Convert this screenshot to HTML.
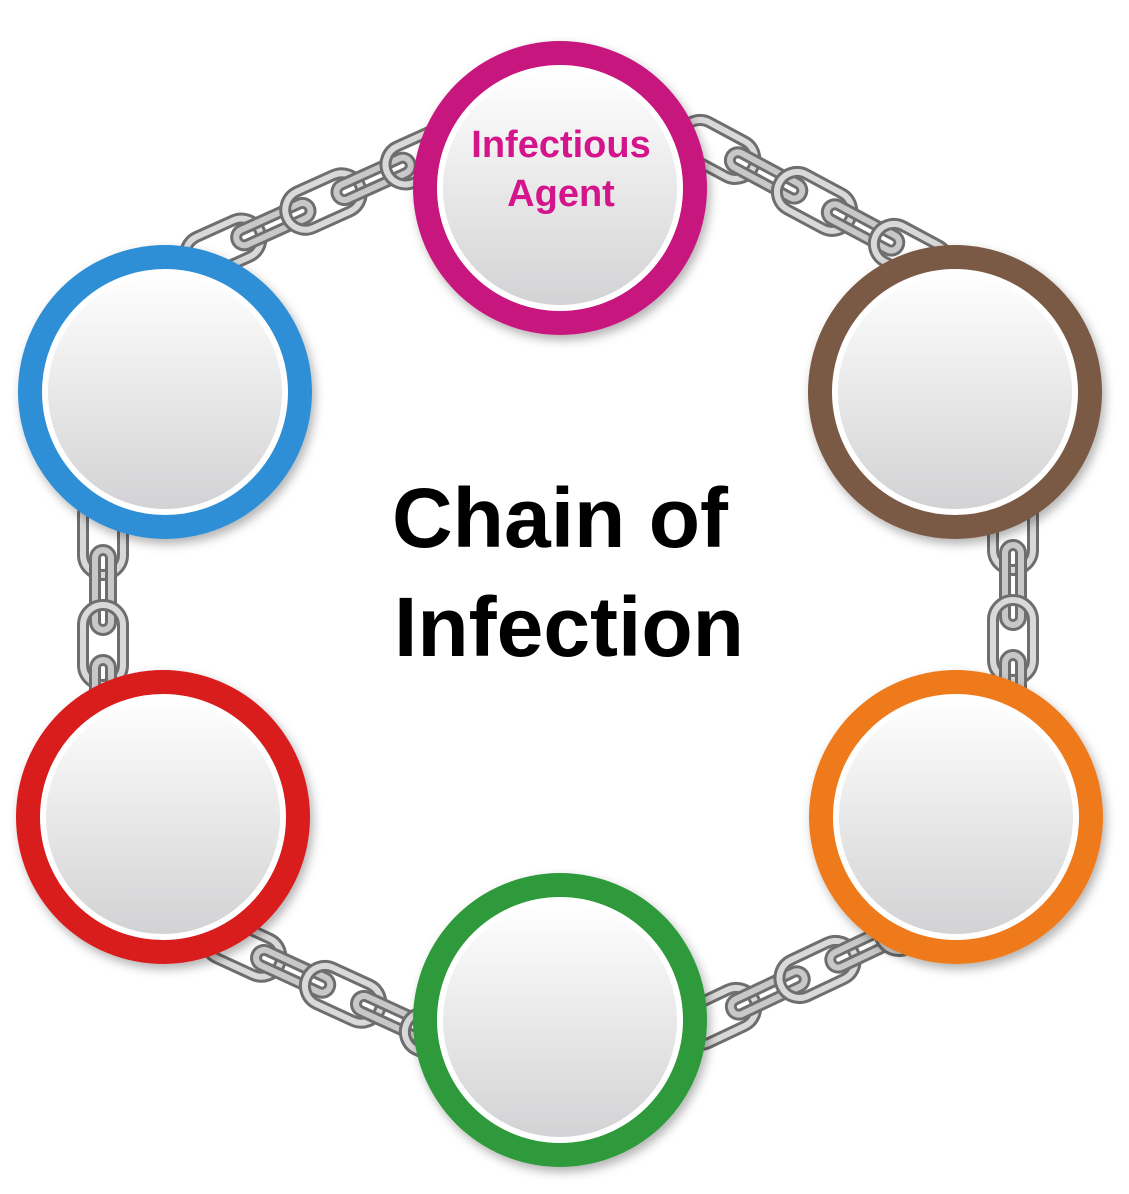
<!DOCTYPE html>
<html><head><meta charset="utf-8"><style>
html,body{margin:0;padding:0;background:#fff;}
svg{display:block;}
</style></head><body>
<svg width="1129" height="1194" viewBox="0 0 1129 1194" xmlns="http://www.w3.org/2000/svg">
<defs>
<linearGradient id="inner" x1="0" y1="0" x2="0" y2="1">
<stop offset="0" stop-color="#ffffff"/><stop offset="1" stop-color="#d2d2d4"/>
</linearGradient>
<g id="chain">
<rect x="-20" y="-20" width="80" height="40" rx="20" fill="none" stroke="#6e6e6e" stroke-width="12"/>
<rect x="-20" y="-20" width="80" height="40" rx="20" fill="none" stroke="#d9d9d9" stroke-width="6"/>
<rect x="35" y="-8" width="80" height="16" rx="8" fill="none" stroke="#6e6e6e" stroke-width="12"/>
<rect x="35" y="-8" width="80" height="16" rx="8" fill="none" stroke="#c8c8c8" stroke-width="6"/>
<rect x="90" y="-20" width="80" height="40" rx="20" fill="none" stroke="#6e6e6e" stroke-width="12"/>
<rect x="90" y="-20" width="80" height="40" rx="20" fill="none" stroke="#d9d9d9" stroke-width="6"/>
<rect x="145" y="-8" width="80" height="16" rx="8" fill="none" stroke="#6e6e6e" stroke-width="12"/>
<rect x="145" y="-8" width="80" height="16" rx="8" fill="none" stroke="#c8c8c8" stroke-width="6"/>
<rect x="200" y="-20" width="80" height="40" rx="20" fill="none" stroke="#6e6e6e" stroke-width="12"/>
<rect x="200" y="-20" width="80" height="40" rx="20" fill="none" stroke="#d9d9d9" stroke-width="6"/>
</g>
<filter id="sh" x="-20%" y="-20%" width="140%" height="140%"><feDropShadow dx="3" dy="5" stdDeviation="5" flood-opacity="0.3"/></filter>
</defs>

<use href="#chain" transform="translate(205,255) rotate(-24.3)"/>
<use href="#chain" transform="translate(700,140) rotate(28.2)"/>
<use href="#chain" transform="translate(103,515) rotate(90)"/>
<use href="#chain" transform="translate(1013,510) rotate(90)"/>
<use href="#chain" transform="translate(225,940) rotate(24.7)"/>
<use href="#chain" transform="translate(700,1025) rotate(-25.3)"/>

<g filter="url(#sh)">
<circle cx="560" cy="188" r="147" fill="#c8177f"/>
<circle cx="165" cy="392" r="147" fill="#2f8fd6"/>
<circle cx="955" cy="392" r="147" fill="#7a5a45"/>
<circle cx="163" cy="817" r="147" fill="#d91c1f"/>
<circle cx="956" cy="817" r="147" fill="#ee7a1c"/>
<circle cx="560" cy="1020" r="147" fill="#2f9a3a"/>
</g>
<g fill="url(#inner)" stroke="#ffffff" stroke-width="6">
<circle cx="560" cy="188" r="120"/>
<circle cx="165" cy="392" r="120"/>
<circle cx="955" cy="392" r="120"/>
<circle cx="163" cy="817" r="120"/>
<circle cx="956" cy="817" r="120"/>
<circle cx="560" cy="1020" r="120"/>
</g>

<text x="561" y="157" text-anchor="middle" font-family="Liberation Sans, sans-serif" font-weight="bold" font-size="38" fill="#d4148a">Infectious</text>
<text x="561" y="206" text-anchor="middle" font-family="Liberation Sans, sans-serif" font-weight="bold" font-size="38" fill="#d4148a">Agent</text>
<text x="560" y="547" text-anchor="middle" font-family="Liberation Sans, sans-serif" font-weight="bold" font-size="84" fill="#000">Chain of</text>
<text x="569" y="656" text-anchor="middle" font-family="Liberation Sans, sans-serif" font-weight="bold" font-size="84" fill="#000">Infection</text>
</svg>
</body></html>
